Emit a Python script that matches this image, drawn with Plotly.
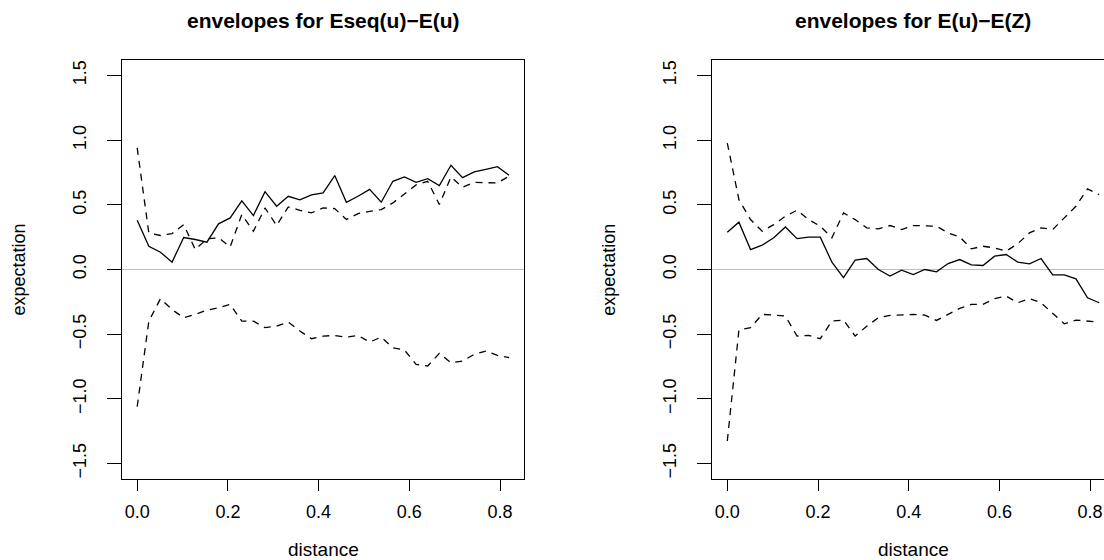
import plotly.graph_objects as go

W, H = 1104, 560

# ---------------- data ----------------
n_pts = 33
distance = [round(i * 0.82 / 32, 5) for i in range(n_pts)]

left_obs = [0.381, 0.180, 0.134, 0.057, 0.247, 0.232, 0.211, 0.353, 0.399, 0.530,
            0.417, 0.602, 0.489, 0.566, 0.538, 0.577, 0.592, 0.726, 0.520, 0.566,
            0.620, 0.520, 0.682, 0.716, 0.674, 0.703, 0.649, 0.806, 0.710, 0.754,
            0.775, 0.795, 0.728]
left_hi = [0.940, 0.283, 0.263, 0.278, 0.347, 0.154, 0.237, 0.245, 0.175, 0.425,
           0.296, 0.476, 0.340, 0.484, 0.458, 0.438, 0.476, 0.471, 0.386, 0.432,
           0.450, 0.463, 0.515, 0.587, 0.654, 0.682, 0.502, 0.716, 0.636, 0.674,
           0.674, 0.669, 0.721]
left_lo = [-1.060, -0.400, -0.226, -0.310, -0.373, -0.347, -0.314, -0.296, -0.270, -0.399,
           -0.399, -0.450, -0.438, -0.407, -0.476, -0.535, -0.515, -0.510, -0.523, -0.510,
           -0.561, -0.523, -0.605, -0.623, -0.734, -0.746, -0.649, -0.721, -0.708, -0.656,
           -0.631, -0.664, -0.682]

right_obs = [0.288, 0.366, 0.154, 0.188, 0.245, 0.329, 0.239, 0.250, 0.250, 0.057,
             -0.062, 0.072, 0.085, 0.000, -0.051, -0.005, -0.039, 0.000, -0.018, 0.046,
             0.077, 0.036, 0.031, 0.103, 0.116, 0.057, 0.044, 0.085, -0.041, -0.041,
             -0.072, -0.219, -0.257]
right_hi = [0.978, 0.540, 0.386, 0.296, 0.347, 0.412, 0.458, 0.386, 0.335, 0.245,
            0.438, 0.386, 0.322, 0.314, 0.340, 0.309, 0.340, 0.335, 0.335, 0.283,
            0.252, 0.160, 0.180, 0.167, 0.142, 0.200, 0.283, 0.322, 0.309, 0.399,
            0.489, 0.623, 0.579]
right_lo = [-1.326, -0.468, -0.450, -0.347, -0.353, -0.360, -0.515, -0.510, -0.535, -0.399,
            -0.391, -0.515, -0.438, -0.373, -0.355, -0.353, -0.347, -0.353, -0.394, -0.347,
            -0.301, -0.270, -0.270, -0.226, -0.206, -0.257, -0.226, -0.257, -0.335, -0.420,
            -0.391, -0.399, -0.407]

x_ticks = [0.0, 0.2, 0.4, 0.6, 0.8]
x_tick_labels = ["0.0", "0.2", "0.4", "0.6", "0.8"]
y_ticks = [-1.5, -1.0, -0.5, 0.0, 0.5, 1.0, 1.5]
y_tick_labels = ["\u22121.5", "\u22121.0", "\u22120.5", "0.0", "0.5", "1.0", "1.5"]

titles = ["envelopes for Eseq(u)\u2212E(u)", "envelopes for E(u)\u2212E(Z)"]
xlab = "distance"
ylab = "expectation"

# ---------------- layout geometry (pixels) ----------------
FONT = "Liberation Sans, Arial, Helvetica, sans-serif"
PX_PER_X = 453.5
box_top, box_bot = 60, 479
panels = [
    dict(left=122, right=524, x0px=137.2),
    dict(left=712.3, right=1104, x0px=727.3),
]

def px_x(p):
    return p / W

def px_y(p):
    return 1 - p / H

fig = go.Figure()

series = [(left_obs, left_hi, left_lo), (right_obs, right_hi, right_lo)]
for k, (obs, hi, lo) in enumerate(series):
    xa = "x" if k == 0 else "x2"
    ya = "y" if k == 0 else "y2"
    for vals, dash in ((obs, "solid"), (hi, "7px,6px"), (lo, "7px,6px")):
        fig.add_trace(go.Scatter(
            x=distance, y=vals, mode="lines", xaxis=xa, yaxis=ya,
            line=dict(color="black", width=1.3, dash=dash),
            showlegend=False, hoverinfo="skip"))

axis_common = dict(
    showgrid=False, zeroline=False, ticks="outside", tickcolor="black",
    tickwidth=1, showline=True, linecolor="black", linewidth=1,
    tickfont=dict(family=FONT, size=18, color="black"),
)

layout = dict(
    width=W, height=H, margin=dict(l=0, r=0, t=0, b=0),
    paper_bgcolor="white", plot_bgcolor="white", showlegend=False,
)

for k, p in enumerate(panels):
    xr0 = (p["left"] - p["x0px"]) / PX_PER_X
    xr1 = (p["right"] - p["x0px"]) / PX_PER_X
    xkey = "xaxis" if k == 0 else "xaxis2"
    ykey = "yaxis" if k == 0 else "yaxis2"
    layout[xkey] = dict(
        axis_common, domain=[px_x(p["left"]), px_x(p["right"])],
        range=[xr0, xr1], tickvals=x_ticks, ticktext=x_tick_labels,
        ticklen=11, mirror=True, anchor="y" if k == 0 else "y2",
        ticklabelstandoff=5,
    )
    layout[ykey] = dict(
        axis_common, domain=[px_y(box_bot), px_y(box_top)],
        range=[-1.62, 1.62], tickvals=y_ticks, ticktext=y_tick_labels,
        ticklen=14, tickangle=-90, mirror=(k == 0),
        anchor="x" if k == 0 else "x2", ticklabelstandoff=14,
    )

fig.update_layout(**layout)

shapes = []
annotations = []
for k, p in enumerate(panels):
    xa = "x" if k == 0 else "x2"
    ya = "y" if k == 0 else "y2"
    shapes.append(dict(type="line", xref=f"{xa} domain", yref=ya,
                       x0=0, x1=1, y0=0, y1=0,
                       line=dict(color="#BEBEBE", width=1), layer="below"))
    box_full_right = p["left"] + 402
    cx = (p["left"] + box_full_right) / 2
    annotations.append(dict(
        text=f"<b>{titles[k]}</b>", x=px_x(cx), y=px_y(21), xref="paper", yref="paper",
        showarrow=False, xanchor="center", yanchor="middle",
        font=dict(family=FONT, size=21, color="black")))
    annotations.append(dict(
        text=xlab, x=px_x(cx), y=px_y(549), xref="paper", yref="paper",
        showarrow=False, xanchor="center", yanchor="middle",
        font=dict(family=FONT, size=19, color="black")))
    annotations.append(dict(
        text=ylab, x=px_x(p["left"] - 104), y=px_y((box_top + box_bot) / 2),
        xref="paper", yref="paper", showarrow=False, textangle=-90,
        xanchor="center", yanchor="middle",
        font=dict(family=FONT, size=18, color="black")))

fig.update_layout(shapes=shapes, annotations=annotations)

fig.write_html("out.html")
